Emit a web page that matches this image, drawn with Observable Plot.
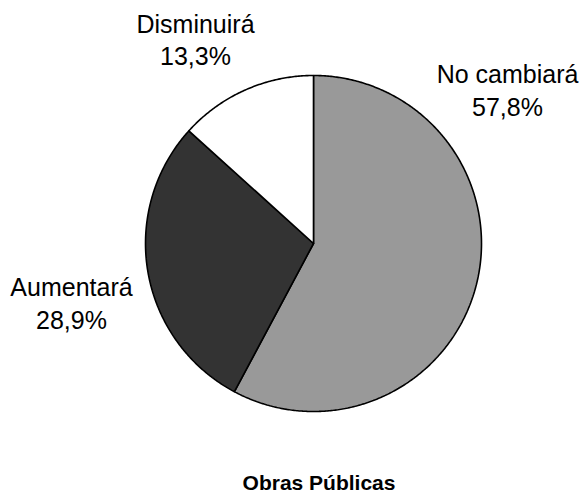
<!DOCTYPE html>
<html>
<head>
<meta charset="utf-8">
<script src="https://cdn.jsdelivr.net/npm/d3@7"></script>
<script src="https://cdn.jsdelivr.net/npm/@observablehq/plot@0.6"></script>
<style>
  html, body { margin: 0; padding: 0; background: #fff; }
</style>
</head>
<body>
<div id="chart"></div>
<script>
// ---- data ----
const categories = ["No cambiará", "Aumentará", "Disminuirá"];
const shares = [57.8, 28.9, 13.3];
const valueLabels = ["57,8%", "28,9%", "13,3%"];
const title = "Obras Públicas";

// ---- layout (px geometry of the reference) ----
const W = 584, H = 492;
const cx = 313, cy = 243, R = 168;          // pie centre and radius in px
const colors = ["#999999", "#333333", "#ffffff"];
// label anchors (centre x, last-line baseline y) in px
const labelAnchors = {
  "No cambiará": [507, 115],
  "Aumentará": [71, 328],
  "Disminuirá": [195, 64.5]
};

// pie geometry in unit-circle coordinates (y up)
const pie = d3.pie().sort(null).value(d => d.value)(
  categories.map((c, i) => ({label: c, value: shares[i]}))
);
const slicePts = [];
for (const a of pie) {
  const lbl = a.data.label;
  slicePts.push({label: lbl, x: 0, y: 0});
  const n = Math.max(2, Math.ceil((a.endAngle - a.startAngle) / (Math.PI / 360)));
  for (let k = 0; k <= n; ++k) {
    const t = a.startAngle + (a.endAngle - a.startAngle) * k / n;
    slicePts.push({label: lbl, x: Math.sin(t), y: Math.cos(t)});
  }
  slicePts.push({label: lbl, x: 0, y: 0});
}

const toX = px => (px - cx) / R;
const toY = py => (cy - py) / R;
const labels = categories.map((c, i) => ({
  text: c + "\n" + valueLabels[i],
  x: toX(labelAnchors[c][0]),
  y: toY(labelAnchors[c][1])
}));

const chart = Plot.plot({
  width: W,
  height: H,
  margin: 0,
  style: {background: "#fff", fontFamily: "Arial, 'Liberation Sans', sans-serif"},
  x: {domain: [toX(0), toX(W)], axis: null},
  y: {domain: [toY(H), toY(0)], axis: null},
  color: {domain: categories, range: colors},
  marks: [
    Plot.line(slicePts, {
      x: "x", y: "y", z: "label", fill: "label",
      stroke: "#000", strokeWidth: 1.6, strokeLinejoin: "miter"
    }),
    Plot.text(labels, {
      x: "x", y: "y", text: "text",
      fontSize: 25, lineHeight: 1.3, lineAnchor: "bottom",
      textAnchor: "middle", fill: "#000"
    }),
    Plot.text([title], {
      x: toX(318.5), y: toY(489), text: d => d,
      fontSize: 21, fontWeight: "bold", lineAnchor: "bottom",
      textAnchor: "middle", fill: "#000"
    })
  ]
});
document.getElementById("chart").appendChild(chart);
</script>
</body>
</html>
